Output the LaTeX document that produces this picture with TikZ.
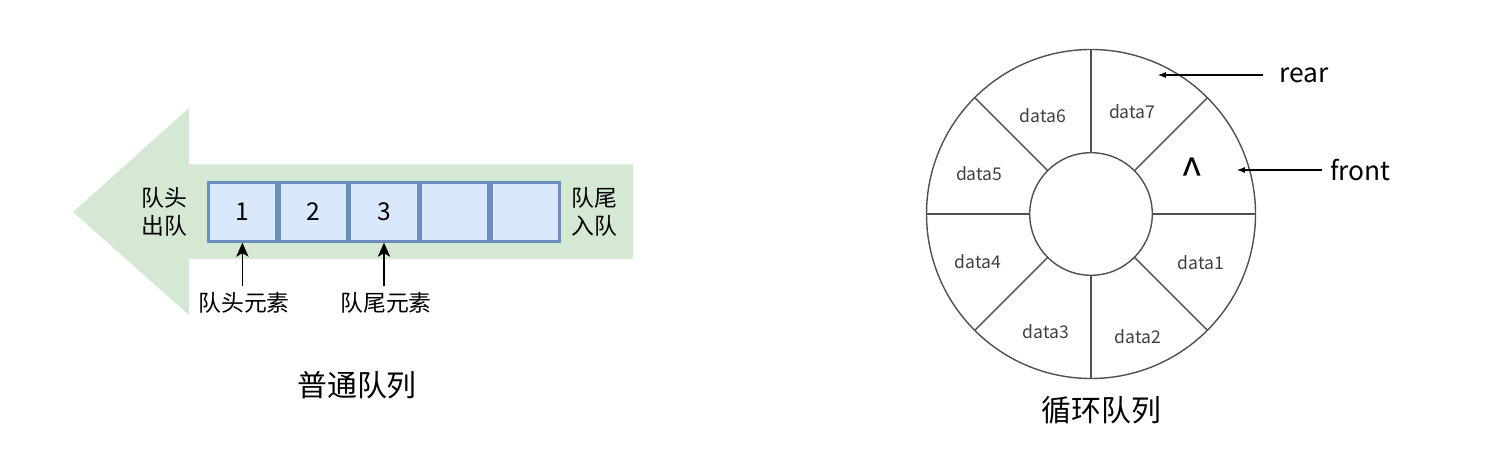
\documentclass[tikz,border=0pt]{standalone}
\usepackage{fontspec}
\setmainfont{Noto Sans CJK SC}
\usetikzlibrary{positioning, arrows.meta}
\definecolor{qgreen}{HTML}{D5E8D4}
\definecolor{qblue}{HTML}{DAE8FC}
\definecolor{qborder}{HTML}{6C8EBF}
\definecolor{ringgray}{HTML}{505050}
\def\inner{61.3}
\def\outer{164.5}
\tikzset{cell/.style={draw=qborder, fill=qblue, line width=1.6pt, minimum width=1.36cm, minimum height=1.17cm, inner sep=0pt, font=\fontsize{14}{16}\selectfont}}
\tikzset{side/.style={align=center, font=\fontsize{13}{16}\selectfont}}
\tikzset{tag/.style={font=\fontsize{13}{16}\selectfont}}
\tikzset{ptr/.style={line width=0.7pt, -{Stealth[length=8pt, width=7pt, inset=2pt]}}}
\tikzset{ring/.style={draw=ringgray, line width=0.8pt}}
\tikzset{slot/.style={text=black!75, font=\fontsize{10}{12}\selectfont}}
\tikzset{hand/.style={line width=0.6pt, -{Latex[length=4.5pt, width=3.5pt]}}}
\tikzset{title/.style={font=\fontsize{17}{20}\selectfont}}

\begin{document}
\begin{tikzpicture}[x=0.02cm, y=0.02cm]
        \useasboundingbox (0,0) rectangle (1486,470);
        % Queue direction arrow
        \fill[qgreen] (73,258) -- (189,362) -- (189,305.5) -- (633,305.5)
          -- (633,211) -- (189,211) -- (189,155) -- cycle;
        % Cells
        \node[cell] (c1) at (242.4,258) {1};
        \node[cell, right=0pt of c1] (c2) {2};
        \node[cell, right=0pt of c2] (c3) {3};
        \node[cell, right=0pt of c3] (c4) {};
        \node[cell, right=0pt of c4] (c5) {};
        \node[side, left=0.27cm of c1] (outq) {队头\\出队};
        \node[side, right=0.09cm of c5] (inq) {队尾\\入队};
        % Head and tail
        \node[tag] (headtag) at (244,167) {队头元素};
        \node[tag] (tailtag) at (386,167) {队尾元素};
        \draw[ptr] (c1.south |- headtag.north) -- (c1.south);
        \draw[ptr] (c3.south |- tailtag.north) -- (c3.south);
        \node[title] (plain) at (357,85) {普通队列};
        % Ring
        \begin{scope}[shift={(1091,256)}]
          \draw[ring] (0,0) circle (\outer);
          \draw[ring] (0,0) circle (\inner);
          \foreach \a in {0,45,...,315} {
            \draw[ring] (\a:\inner) -- (\a:\outer);
          }
          \foreach \i/\a/\r in {1/-24/120, 2/-69/131, 3/-111/126, 4/-157/123,
                                5/160/119, 6/116/110, 7/68/110} {
            \node[slot] (d\i) at (\a:\r) {data\i};
          }
          \node[font=\fontsize{24}{26}\selectfont, yshift=-0.1cm] (d0) at (24:111) {\textasciicircum};
        \end{scope}
        % Pointers
        \node[font=\fontsize{15}{18}\selectfont] (rear) at (1304,395) {rear};
        \node[font=\fontsize{15}{18}\selectfont] (front) at (1360.5,300) {front};
        \coordinate (rearend) at (1158,395);
        \coordinate (frontend) at (1237,300);
        \draw[hand, shorten <=0.2cm] (rear.west) -- (rearend);
        \draw[hand, shorten <=0.04cm] (front.west) -- (frontend);
        \node[title] (ring) at (1101.5,60) {循环队列};
\end{tikzpicture}
\end{document}
